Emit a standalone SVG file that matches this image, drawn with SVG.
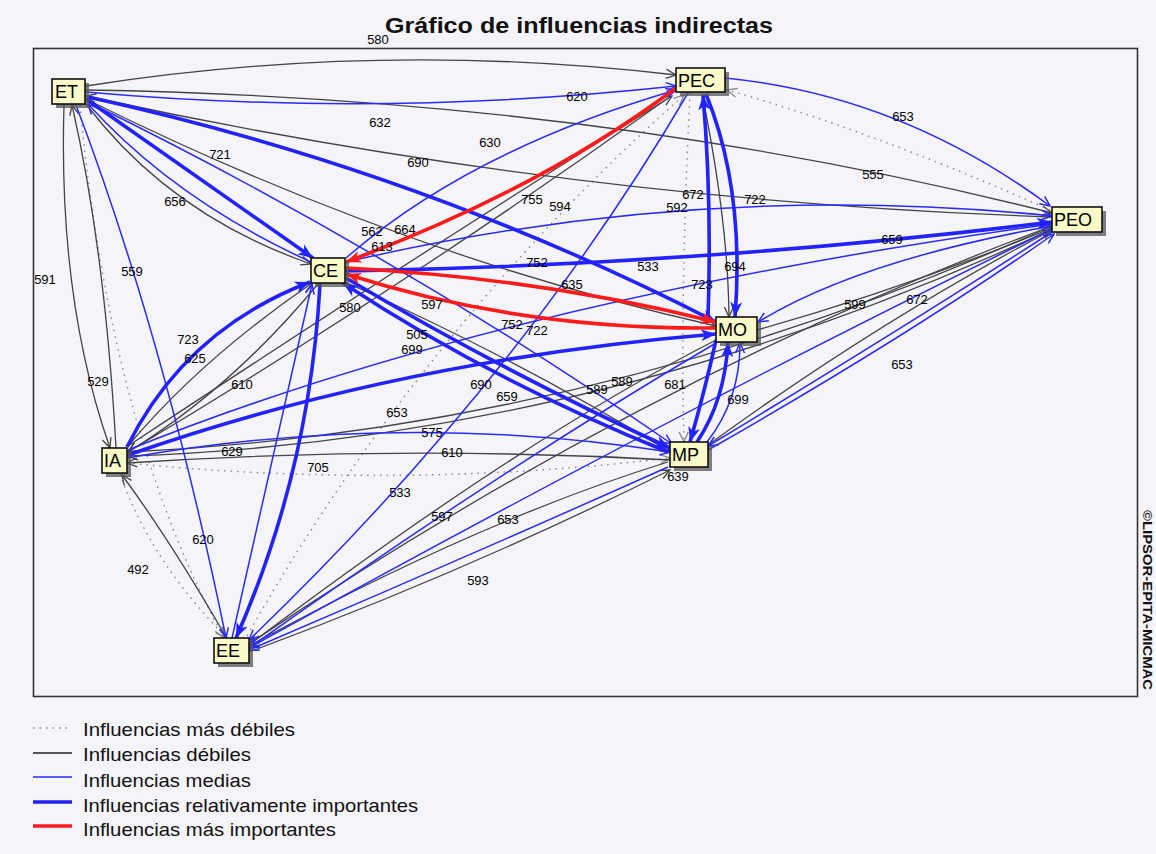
<svg xmlns="http://www.w3.org/2000/svg" width="1156" height="854" viewBox="0 0 1156 854">
<style>
.wk{fill:none;stroke:#444;stroke-width:1.3}
.md{fill:none;stroke:#2a2aff;stroke-width:1.5}
.rl{fill:none;stroke:#2222ff;stroke-width:3.6}
.mx{fill:none;stroke:#ff1a1a;stroke-width:3.6}
.dt{fill:none;stroke:#888;stroke-width:1.4;stroke-dasharray:1.5 5}
.lbl{font-family:"Liberation Sans",Arial,sans-serif;font-size:13px;fill:#000;text-anchor:middle}
.nbox{fill:#fafac8;stroke:#111;stroke-width:1.6}
.nsh{fill:#555;opacity:0.75}
.ntx{font-family:"Liberation Sans",Arial,sans-serif;font-size:18px;fill:#000}
.leg{font-family:"Liberation Sans",Arial,sans-serif;font-size:19px;fill:#111}
</style>
<defs>
<marker id="ak" markerUnits="userSpaceOnUse" viewBox="0 0 12 12" refX="11" refY="6" markerWidth="12" markerHeight="12" orient="auto"><path d="M1,1.5 L11,6 L1,10.5" fill="none" stroke="#444" stroke-width="1.3"/></marker>
<marker id="ab" markerUnits="userSpaceOnUse" viewBox="0 0 12 12" refX="11" refY="6" markerWidth="12" markerHeight="12" orient="auto"><path d="M1,1.5 L11,6 L1,10.5" fill="none" stroke="#2a2aff" stroke-width="1.5"/></marker>
<marker id="ag" markerUnits="userSpaceOnUse" viewBox="0 0 12 12" refX="11" refY="6" markerWidth="12" markerHeight="12" orient="auto"><path d="M1,1.5 L11,6 L1,10.5" fill="none" stroke="#888" stroke-width="1.3"/></marker>
<marker id="aB" markerUnits="userSpaceOnUse" viewBox="0 0 16 14" refX="15" refY="7" markerWidth="16" markerHeight="14" orient="auto"><path d="M0,1 L15,7 L0,13 L4,7 z" fill="#2222ff"/></marker>
<marker id="ar" markerUnits="userSpaceOnUse" viewBox="0 0 16 14" refX="15" refY="7" markerWidth="16" markerHeight="14" orient="auto"><path d="M0,1 L15,7 L0,13 L4,7 z" fill="#ff1a1a"/></marker>
</defs>
<rect x="0" y="0" width="1156" height="854" fill="#f5f4f9"/>
<text x="579" y="33" font-family="'Liberation Sans',Arial,sans-serif" font-size="22" font-weight="bold" text-anchor="middle" textLength="388" lengthAdjust="spacingAndGlyphs" fill="#111">Gráfico de influencias indirectas</text>
<rect x="33.5" y="48.5" width="1104" height="648" fill="none" stroke="#333" stroke-width="1.6"/>
<text transform="translate(1143,510) rotate(90)" font-family="'Liberation Sans',Arial,sans-serif" font-size="13" font-weight="bold" textLength="180" lengthAdjust="spacingAndGlyphs" fill="#111">©LIPSOR-EPITA-MICMAC</text>

<g id="connectors">
<g class="dt-group">
<path class="dt" d="M80,105 Q110,430 224,638" marker-end="url(#ag)"/>
<path class="dt" d="M690,93 Q680,300 684,442" marker-end="url(#ag)"/>
<path class="dt" d="M1050,210 Q870,130 727,90" marker-end="url(#ag)"/>
<path class="dt" d="M247,636 Q420,330 684,95" marker-end="url(#ag)"/>
<path class="dt" d="M127,463 Q400,490 670,458" marker-end="url(#ag)"/>
<path class="dt" d="M120,474 Q150,560 226,637" marker-end="url(#ag)"/>
</g>
<g class="wk-group">
<path class="wk" d="M86,86 Q380,40 676,75" marker-end="url(#ak)"/>
<path class="wk" d="M86,90 Q600,98 1052,213" marker-end="url(#ak)"/>
<path class="wk" d="M1052,217 Q560,200 86,96" marker-end="url(#ak)"/>
<path class="wk" d="M86,104 Q170,215 311,264" marker-end="url(#ak)"/>
<path class="wk" d="M88,100 Q400,255 716,326" marker-end="url(#ak)"/>
<path class="wk" d="M64,105 Q58,300 110,448" marker-end="url(#ak)"/>
<path class="wk" d="M116,448 Q105,250 72,105" marker-end="url(#ak)"/>
<path class="wk" d="M702,94 Q728,220 729,317" marker-end="url(#ak)"/>
<path class="wk" d="M668,98 Q400,290 128,452" marker-end="url(#ak)"/>
<path class="wk" d="M128,446 Q440,240 672,96" marker-end="url(#ak)"/>
<path class="wk" d="M128,452 Q600,430 1052,226" marker-end="url(#ak)"/>
<path class="wk" d="M1052,229 Q600,440 128,456" marker-end="url(#ak)"/>
<path class="wk" d="M128,446 Q200,360 312,283" marker-end="url(#ak)"/>
<path class="wk" d="M318,284 Q230,390 128,452" marker-end="url(#ak)"/>
<path class="wk" d="M226,637 Q170,540 122,475" marker-end="url(#ak)"/>
<path class="wk" d="M716,340 Q520,440 249,645" marker-end="url(#ak)"/>
<path class="wk" d="M757,330 Q900,290 1052,228" marker-end="url(#ak)"/>
<path class="wk" d="M708,445 Q880,320 1052,230" marker-end="url(#ak)"/>
<path class="wk" d="M1052,226 Q640,380 249,644" marker-end="url(#ak)"/>
<path class="wk" d="M668,462 Q480,520 249,646" marker-end="url(#ak)"/>
<path class="wk" d="M249,652 Q470,570 670,470" marker-end="url(#ak)"/>
<path class="wk" d="M670,460 Q400,445 127,463" marker-end="url(#ak)"/>
<path class="wk" d="M345,282 Q520,360 670,452" marker-end="url(#ak)"/>
</g>
<g class="md-group">
<path class="md" d="M86,92 Q380,118 676,86" marker-end="url(#ab)"/>
<path class="md" d="M311,262 Q175,200 88,104" marker-end="url(#ab)"/>
<path class="md" d="M88,102 Q390,250 672,444" marker-end="url(#ab)"/>
<path class="md" d="M76,105 Q165,340 226,638" marker-end="url(#ab)"/>
<path class="md" d="M346,258 Q470,150 676,90" marker-end="url(#ab)"/>
<path class="md" d="M725,78 Q900,95 1050,206" marker-end="url(#ab)"/>
<path class="md" d="M688,93 Q520,380 249,640" marker-end="url(#ab)"/>
<path class="md" d="M127,458 Q400,410 670,452" marker-end="url(#ab)"/>
<path class="md" d="M128,450 Q500,300 1052,224" marker-end="url(#ab)"/>
<path class="md" d="M346,262 Q700,180 1052,216" marker-end="url(#ab)"/>
<path class="md" d="M232,638 Q270,470 312,284" marker-end="url(#ab)"/>
<path class="md" d="M707,442 Q740,400 740,343" marker-end="url(#ab)"/>
<path class="md" d="M716,343 Q500,470 249,648" marker-end="url(#ab)"/>
<path class="md" d="M1052,226 Q860,260 758,322" marker-end="url(#ab)"/>
<path class="md" d="M1052,232 Q900,330 708,446" marker-end="url(#ab)"/>
<path class="md" d="M708,450 Q905,338 1054,234" marker-end="url(#ab)"/>
<path class="md" d="M1052,229 Q660,420 249,648" marker-end="url(#ab)"/>
<path class="md" d="M668,467 Q460,560 249,650" marker-end="url(#ab)"/>
</g>
<g class="rl-group">
<path class="rl" d="M86,99 L313,258" marker-end="url(#aB)"/>
<path class="rl" d="M88,97 Q420,170 716,322" marker-end="url(#aB)"/>
<path class="rl" d="M708,318 Q712,200 703,95" marker-end="url(#aB)"/>
<path class="rl" d="M706,94 Q745,190 735,317" marker-end="url(#aB)"/>
<path class="rl" d="M127,447 Q185,330 310,282" marker-end="url(#aB)"/>
<path class="rl" d="M128,455 Q400,360 716,334" marker-end="url(#aB)"/>
<path class="rl" d="M346,271 Q700,265 1052,222" marker-end="url(#aB)"/>
<path class="rl" d="M346,278 Q500,370 670,448" marker-end="url(#aB)"/>
<path class="rl" d="M668,452 Q490,380 343,283" marker-end="url(#aB)"/>
<path class="rl" d="M320,284 Q310,470 236,638" marker-end="url(#aB)"/>
<path class="rl" d="M716,340 Q705,390 690,442" marker-end="url(#aB)"/>
<path class="rl" d="M697,442 Q725,400 728,342" marker-end="url(#aB)"/>
</g>
<g class="mx-group">
<path class="mx" d="M676,88 Q540,190 346,262" marker-end="url(#ar)"/>
<path class="mx" d="M346,268 Q540,278 716,322" marker-end="url(#ar)"/>
<path class="mx" d="M716,328 Q520,330 346,274" marker-end="url(#ar)"/>
</g>
</g>

<g id="labels">
<text class="lbl" x="378" y="44">580</text>
<text class="lbl" x="577" y="101">620</text>
<text class="lbl" x="380" y="127">632</text>
<text class="lbl" x="490" y="147">630</text>
<text class="lbl" x="903" y="121">653</text>
<text class="lbl" x="220" y="159">721</text>
<text class="lbl" x="418" y="167">690</text>
<text class="lbl" x="175" y="206">656</text>
<text class="lbl" x="873" y="179">555</text>
<text class="lbl" x="532" y="204">755</text>
<text class="lbl" x="560" y="211">594</text>
<text class="lbl" x="693" y="199">672</text>
<text class="lbl" x="677" y="212">592</text>
<text class="lbl" x="755" y="204">722</text>
<text class="lbl" x="372" y="236">562</text>
<text class="lbl" x="405" y="234">664</text>
<text class="lbl" x="382" y="251">613</text>
<text class="lbl" x="537" y="267">752</text>
<text class="lbl" x="648" y="271">533</text>
<text class="lbl" x="735" y="271">694</text>
<text class="lbl" x="892" y="244">659</text>
<text class="lbl" x="572" y="289">635</text>
<text class="lbl" x="702" y="289">723</text>
<text class="lbl" x="45" y="284">591</text>
<text class="lbl" x="132" y="276">559</text>
<text class="lbl" x="350" y="312">580</text>
<text class="lbl" x="432" y="309">597</text>
<text class="lbl" x="855" y="309">599</text>
<text class="lbl" x="917" y="304">672</text>
<text class="lbl" x="417" y="339">505</text>
<text class="lbl" x="512" y="329">752</text>
<text class="lbl" x="537" y="335">722</text>
<text class="lbl" x="412" y="354">699</text>
<text class="lbl" x="188" y="344">723</text>
<text class="lbl" x="195" y="363">625</text>
<text class="lbl" x="98" y="386">529</text>
<text class="lbl" x="242" y="389">610</text>
<text class="lbl" x="902" y="369">653</text>
<text class="lbl" x="481" y="389">690</text>
<text class="lbl" x="507" y="401">659</text>
<text class="lbl" x="597" y="394">589</text>
<text class="lbl" x="622" y="386">589</text>
<text class="lbl" x="675" y="389">681</text>
<text class="lbl" x="738" y="404">699</text>
<text class="lbl" x="397" y="417">653</text>
<text class="lbl" x="432" y="437">575</text>
<text class="lbl" x="232" y="456">629</text>
<text class="lbl" x="452" y="457">610</text>
<text class="lbl" x="318" y="472">705</text>
<text class="lbl" x="678" y="481">639</text>
<text class="lbl" x="400" y="497">533</text>
<text class="lbl" x="442" y="521">597</text>
<text class="lbl" x="508" y="524">653</text>
<text class="lbl" x="203" y="544">620</text>
<text class="lbl" x="138" y="574">492</text>
<text class="lbl" x="478" y="585">593</text>
</g>

<g id="node-ET"><rect class="nsh" x="56" y="83" width="33" height="25"/><rect class="nbox" x="52" y="79" width="33" height="25"/><text class="ntx" x="55" y="98">ET</text></g>
<g id="node-PEC"><rect class="nsh" x="680" y="72" width="49" height="24"/><rect class="nbox" x="676" y="68" width="49" height="24"/><text class="ntx" x="678" y="87">PEC</text></g>
<g id="node-PEO"><rect class="nsh" x="1056" y="211" width="50" height="25"/><rect class="nbox" x="1052" y="207" width="50" height="25"/><text class="ntx" x="1054" y="226">PEO</text></g>
<g id="node-CE"><rect class="nsh" x="315" y="262" width="34" height="25"/><rect class="nbox" x="311" y="258" width="34" height="25"/><text class="ntx" x="313" y="277">CE</text></g>
<g id="node-MO"><rect class="nsh" x="720" y="321" width="41" height="25"/><rect class="nbox" x="716" y="317" width="41" height="25"/><text class="ntx" x="718" y="336">MO</text></g>
<g id="node-IA"><rect class="nsh" x="106" y="452" width="25" height="25"/><rect class="nbox" x="102" y="448" width="25" height="25"/><text class="ntx" x="104" y="467">IA</text></g>
<g id="node-MP"><rect class="nsh" x="674" y="446" width="38" height="25"/><rect class="nbox" x="670" y="442" width="38" height="25"/><text class="ntx" x="672" y="461">MP</text></g>
<g id="node-EE"><rect class="nsh" x="218" y="642" width="35" height="25"/><rect class="nbox" x="214" y="638" width="35" height="25"/><text class="ntx" x="216" y="657">EE</text></g>

<g id="legend">
<line x1="33" y1="728" x2="70" y2="728" stroke="#888" stroke-width="1.3" stroke-dasharray="1.5 5"/>
<line x1="33" y1="753" x2="72" y2="753" stroke="#222" stroke-width="1.3"/>
<line x1="33" y1="777" x2="72" y2="777" stroke="#2a2aff" stroke-width="1.5"/>
<line x1="33" y1="802" x2="72" y2="802" stroke="#2222ff" stroke-width="3.5"/>
<line x1="33" y1="826" x2="72" y2="826" stroke="#ff1a1a" stroke-width="3.5"/>
<text class="leg" x="83" y="736" textLength="212" lengthAdjust="spacingAndGlyphs">Influencias más débiles</text>
<text class="leg" x="83" y="761" textLength="168" lengthAdjust="spacingAndGlyphs">Influencias débiles</text>
<text class="leg" x="83" y="787" textLength="168" lengthAdjust="spacingAndGlyphs">Influencias medias</text>
<text class="leg" x="83" y="812" textLength="335" lengthAdjust="spacingAndGlyphs">Influencias relativamente importantes</text>
<text class="leg" x="83" y="836" textLength="253" lengthAdjust="spacingAndGlyphs">Influencias más importantes</text>
</g>
</svg>
